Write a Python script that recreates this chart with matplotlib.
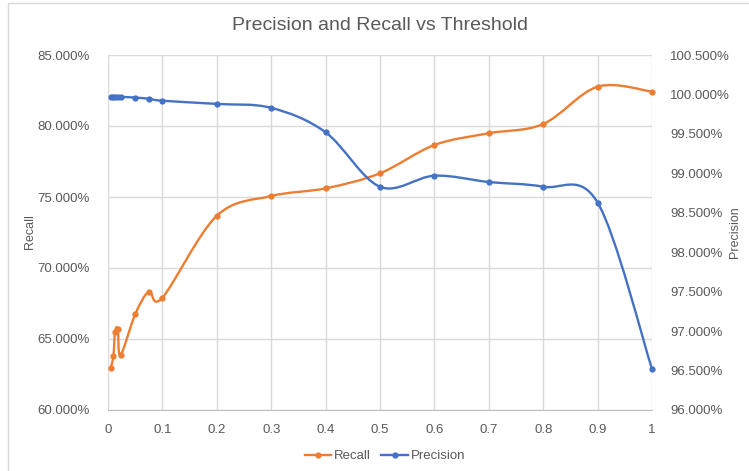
"""Precision and recall against decision threshold (Excel-style smoothed lines)."""

import matplotlib
matplotlib.use("Agg")
import matplotlib.pyplot as plt
import numpy as np
from matplotlib.lines import Line2D
from matplotlib.patches import PathPatch, Rectangle
from matplotlib.path import Path
from matplotlib.ticker import FuncFormatter

plt.rcParams["font.family"] = ["Liberation Sans", "DejaVu Sans"]

thresholds = [0.005, 0.01, 0.013, 0.018, 0.023, 0.05, 0.075, 0.1, 0.2, 0.3,
              0.4, 0.5, 0.6, 0.7, 0.8, 0.9, 1.0]
recall = [62.94, 63.82, 65.51, 65.68, 63.87, 66.74, 68.33, 67.91, 73.68, 75.07,
          75.61, 76.67, 78.66, 79.49, 80.14, 82.77, 82.42]
precision = [99.97, 99.97, 99.97, 99.97, 99.97, 99.96, 99.946, 99.92, 99.88, 99.83,
             99.52, 98.83, 98.97, 98.89, 98.83, 98.63, 96.52]

ORANGE = "#ED7D31"
BLUE = "#4472C4"
GRID = "#D9D9D9"
TEXT = "#595959"


def smooth_path(x, y):
    # Catmull-Rom segments as cubic Beziers, roughly what Excel's "smoothed line" does
    pts = np.column_stack([x, y])
    verts = [pts[0]]
    codes = [Path.MOVETO]
    n = len(pts)
    for i in range(n - 1):
        p0 = pts[max(i - 1, 0)]
        p1 = pts[i]
        p2 = pts[i + 1]
        p3 = pts[min(i + 2, n - 1)]
        verts += [p1 + (p2 - p0) / 6, p2 - (p3 - p1) / 6, p2]
        codes += [Path.CURVE4] * 3
    return Path(verts, codes)


def main():
    fig = plt.figure(figsize=(7.49, 4.71), dpi=100)
    fig.patches.append(Rectangle((8 / 749, -0.1), 1.2, 1.1 - 3 / 471, transform=fig.transFigure,
                                 fill=False, edgecolor=GRID, linewidth=1.0))

    ax = fig.add_axes([108 / 749, 61 / 471, 544 / 749, 355 / 471])
    ax2 = ax.twinx()

    ax.set_xlim(0, 1)
    ax.set_ylim(60, 85)
    ax2.set_ylim(96, 100.5)
    ax.set_xticks(np.arange(0, 1.01, 0.1))
    ax.set_xticklabels(["0", "0.1", "0.2", "0.3", "0.4", "0.5", "0.6", "0.7", "0.8", "0.9", "1"])
    ax.set_yticks(np.arange(60, 85.1, 5))
    ax2.set_yticks(np.arange(96, 100.51, 0.5))
    ax.yaxis.set_major_formatter(FuncFormatter(lambda v, _: f"{v:.3f}%"))
    ax2.yaxis.set_major_formatter(FuncFormatter(lambda v, _: f"{v:.3f}%"))

    ax.grid(True, color=GRID, linewidth=1.0)
    ax.set_axisbelow(True)
    for a in (ax, ax2):
        for s in a.spines.values():
            s.set_visible(False)
        a.tick_params(length=0, colors=TEXT, labelsize=9.5)
    ax.spines["bottom"].set_visible(True)
    ax.spines["bottom"].set_color("#BFBFBF")
    ax.tick_params(axis="y", pad=13)
    ax.tick_params(axis="x", pad=10)
    ax2.tick_params(axis="y", pad=13)

    ax.add_patch(PathPatch(smooth_path(thresholds, recall), facecolor="none",
                           edgecolor=ORANGE, linewidth=1.7, zorder=3, clip_on=False))
    ax.plot(thresholds, recall, "o", color=ORANGE, markersize=3.5, zorder=4, clip_on=False)
    ax2.add_patch(PathPatch(smooth_path(thresholds, precision), facecolor="none",
                            edgecolor=BLUE, linewidth=1.7, zorder=3, clip_on=False))
    ax2.plot(thresholds, precision, "o", color=BLUE, markersize=3.5, zorder=4, clip_on=False)

    fig.text(30 / 749, 1 - 232 / 471, "Recall", rotation=90, ha="center", va="center",
             fontsize=9, color=TEXT)
    fig.text(735 / 749, 1 - 232 / 471, "Precision", rotation=90, ha="center", va="center",
             fontsize=9, color=TEXT)
    fig.text(380 / 749, 1 - 25 / 471, "Precision and Recall vs Threshold", ha="center",
             va="center", fontsize=14, color=TEXT)

    handles = [Line2D([], [], color=ORANGE, marker="o", markersize=3.5, linewidth=1.7),
               Line2D([], [], color=BLUE, marker="o", markersize=3.5, linewidth=1.7)]
    fig.legend(handles, ["Recall", "Precision"], loc="center", bbox_to_anchor=(385 / 749, 1 - 456 / 471),
               ncol=2, frameon=False, fontsize=9.5, handlelength=2.0, handletextpad=0.2,
               columnspacing=0.8, labelcolor=TEXT)

    fig.savefig("out.png", dpi=100)
    plt.close(fig)


if __name__ == "__main__":
    main()
